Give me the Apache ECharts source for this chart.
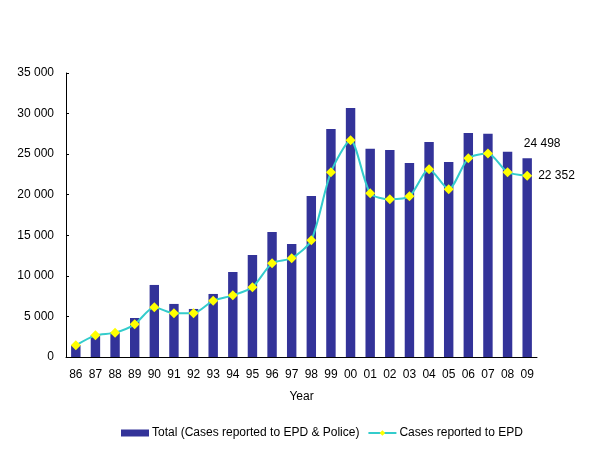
<!DOCTYPE html>
<html><head><meta charset="utf-8">
<script src="https://cdn.jsdelivr.net/npm/echarts@6/dist/echarts.min.js"></script>
<style>html,body{margin:0;padding:0;background:#fff}#c{width:599px;height:449px}</style>
</head><body><div id="c"></div>
<script>
var years = ['86','87','88','89','90','91','92','93','94','95','96','97','98','99','00','01','02','03','04','05','06','07','08','09'];
var totalCases = [1480,2700,3050,4810,8880,6540,5920,7770,10480,12580,15410,13930,19850,28110,30700,25650,25520,23920,26510,24040,27620,27500,25280,24498];
var epdCases = [1440,2670,3000,4030,6130,5390,5400,6940,7600,8590,11550,12170,14390,22770,26720,20180,19440,19810,23140,20680,24500,25070,22770,22352];
var yTicks = {min:0, max:35000, interval:5000};
function fmt(v){return String(Math.round(v)).replace(/\B(?=(\d{3})+(?!\d))/g,' ');}
var font = 'Liberation Sans';
var chart = echarts.init(document.getElementById('c'));
chart.setOption({
  animation:false,
  textStyle:{fontFamily:font},
  grid:{left:66,right:62,top:73,bottom:92,containLabel:false},
  legend:{bottom:5,left:116,itemGap:8,itemWidth:28,itemHeight:7,
    textStyle:{fontFamily:font,fontSize:12,color:'#000',padding:[0,0,0,-2]},
    data:[{name:'Total (Cases reported to EPD & Police)',icon:'rect'},{name:'Cases reported to EPD'}]},
  xAxis:{type:'category',data:years,name:'Year',nameLocation:'middle',nameGap:34,
    nameTextStyle:{fontFamily:font,fontSize:12,color:'#000'},
    axisLine:{lineStyle:{color:'#000',width:1}},axisTick:{show:false},
    axisLabel:{color:'#000',fontSize:12,fontFamily:font,margin:12,interval:0}},
  yAxis:{type:'value',min:yTicks.min,max:yTicks.max,interval:yTicks.interval,
    axisLine:{show:true,lineStyle:{color:'#000',width:1}},
    axisTick:{show:true,inside:true,length:3,lineStyle:{color:'#000'}},
    splitLine:{show:false},
    axisLabel:{color:'#000',fontSize:12,fontFamily:font,margin:12,formatter:fmt}},
  series:[
    {name:'Total (Cases reported to EPD & Police)',type:'bar',data:totalCases,barWidth:'48%',
      itemStyle:{color:'#333399'},
      label:{show:true,position:'top',color:'#000',fontSize:12,fontFamily:font,
        offset:[15,-4],formatter:function(p){return p.dataIndex===totalCases.length-1?fmt(p.value):'';}}},
    {name:'Cases reported to EPD',type:'line',data:epdCases,smooth:0.25,
      symbol:'diamond',symbolSize:10,
      lineStyle:{color:'#33CCCC',width:2},
      itemStyle:{color:'#FFFF00',borderWidth:0},
      label:{show:true,position:'right',distance:6,color:'#000',fontSize:12,fontFamily:font,
        formatter:function(p){return p.dataIndex===epdCases.length-1?fmt(p.value):'';}}}
  ]
});
</script></body></html>
